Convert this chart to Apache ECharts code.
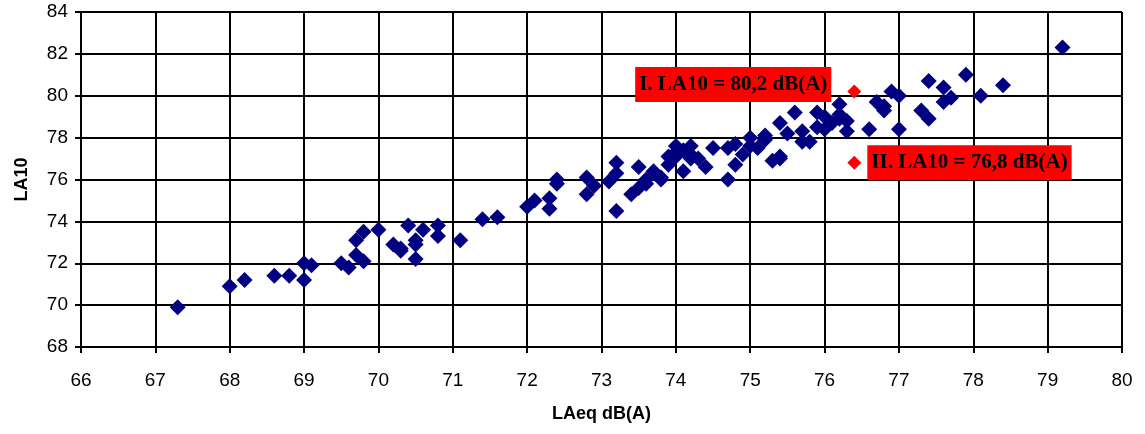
<!DOCTYPE html>
<html>
<head>
<meta charset="UTF-8">
<title>LA10 vs LAeq</title>
<script src="https://cdn.jsdelivr.net/npm/echarts@6.0.0/dist/echarts.min.js"></script>
<style>
  html, body { margin: 0; padding: 0; background: #fff; }
  #chart { width: 1145px; height: 434px; }
</style>
</head>
<body>
<div id="chart"></div>
<script>
  // measured points: LAeq (x), LA10 (y)
  const laeq = [
    67.3, 68.0, 68.2, 68.6, 68.8, 69.0, 69.1, 69.0, 69.5, 69.6,
    69.7, 69.8, 69.7, 69.8, 70.0, 70.2, 70.3, 70.3, 70.4, 70.5,
    70.6, 70.5, 70.5, 70.8, 70.8, 71.1, 71.4, 71.6, 72.0, 72.1,
    72.3, 72.3, 72.4, 72.4, 72.8, 72.8, 72.9, 73.1, 73.2, 73.2,
    73.2, 73.4, 73.5, 73.5, 73.6, 73.7, 73.8, 73.9, 73.9, 74.0,
    74.0, 74.1, 74.2, 74.2, 74.0, 74.2, 74.3, 74.4, 74.5, 74.7,
    74.7, 74.8, 74.8, 74.9, 75.0, 75.1, 75.2, 75.2, 75.3, 75.4,
    75.4, 75.5, 75.6, 75.7, 75.7, 75.8, 75.9, 75.9, 76.0, 76.0,
    76.1, 76.2, 76.2, 76.3, 76.3, 76.6, 76.7, 76.8, 76.8, 76.9,
    77.0, 77.0, 77.3, 77.4, 77.4, 77.6, 77.6, 77.7, 77.9, 78.1,
    78.4, 79.2, 73.6, 73.8, 74.1, 75.0, 75.4, 76.2
  ];
  const la10 = [
    69.9, 70.9, 71.2, 71.4, 71.4, 72.0, 71.9, 71.2, 72.0, 71.8,
    73.1, 73.5, 72.4, 72.1, 73.6, 72.9, 72.6, 72.7, 73.8, 73.1,
    73.6, 72.2, 72.9, 73.8, 73.3, 73.1, 74.1, 74.2, 74.7, 75.0,
    75.1, 74.6, 76.0, 75.8, 76.1, 75.3, 75.7, 75.9, 76.8, 76.3,
    74.5, 75.3, 76.6, 75.6, 75.8, 76.4, 76.0, 76.7, 77.1, 77.6,
    77.3, 76.4, 77.6, 77.0, 77.1, 77.2, 77.0, 76.6, 77.5, 76.0,
    77.5, 76.7, 77.7, 77.2, 78.0, 77.5, 77.9, 78.1, 76.9, 78.7,
    77.1, 78.2, 79.2, 78.3, 77.8, 77.8, 79.2, 78.5, 79.0, 78.4,
    78.7, 79.6, 79.1, 78.3, 78.8, 78.4, 79.7, 79.5, 79.3, 80.2,
    80.0, 78.4, 79.3, 80.7, 78.9, 80.4, 79.7, 79.9, 81.0, 80.0,
    80.5, 82.3, 76.0, 76.1, 77.4, 77.6, 77.0, 78.9
  ];
  // the two highlighted values
  const refX = [76.4, 76.4];
  const refY = [80.2, 76.8];
  const refLabels = ['I. LA10 = 80,2 dB(A)', 'II. LA10 = 76,8 dB(A)'];

  const xTicks = [66, 80, 1];
  const yTicks = [68, 84, 2];

  const points = laeq.map((x, i) => [x, la10[i]]);

  const labelBox = {
    show: true,
    formatter: p => p.name,
    color: '#000',
    fontFamily: '"Liberation Serif", "Times New Roman", serif',
    fontWeight: 'bold',
    fontSize: 21,
    backgroundColor: '#ff0000',
    padding: [7, 4, 7, 4]
  };

  const refData = [
    { name: refLabels[0], value: [refX[0], refY[0]],
      label: Object.assign({}, labelBox, { position: 'left', distance: 16, offset: [0, -7] }) },
    { name: refLabels[1], value: [refX[1], refY[1]],
      label: Object.assign({}, labelBox, { position: 'right', distance: 6 }) }
  ];

  const chart = echarts.init(document.getElementById('chart'));
  const axisFont = { fontFamily: '"Liberation Sans", Arial, sans-serif', fontSize: 19, color: '#000' };
  const lineBlack = { color: '#000', width: 2 };

  chart.setOption({
    animation: false,
    backgroundColor: '#fff',
    grid: { left: 81, right: 23, top: 12, bottom: 87 },
    xAxis: {
      type: 'value',
      min: xTicks[0], max: xTicks[1], interval: xTicks[2],
      name: 'LAeq dB(A)',
      nameLocation: 'middle',
      nameGap: 58,
      nameTextStyle: { fontFamily: '"Liberation Sans", Arial, sans-serif', fontSize: 18, fontWeight: 'bold', color: '#000' },
      axisLine: { show: true, onZero: false, lineStyle: { color: '#000', width: 2 } },
      axisTick: { show: true, inside: false, length: 6, lineStyle: lineBlack },
      axisLabel: Object.assign({ margin: 24 }, axisFont),
      splitLine: { show: true, lineStyle: lineBlack }
    },
    yAxis: {
      type: 'value',
      min: yTicks[0], max: yTicks[1], interval: yTicks[2],
      name: 'LA10',
      nameLocation: 'middle',
      nameRotate: 90,
      nameGap: 50,
      nameTextStyle: { fontFamily: '"Liberation Sans", Arial, sans-serif', fontSize: 18, fontWeight: 'bold', color: '#000' },
      axisLine: { show: true, onZero: false, lineStyle: { color: '#000', width: 2 } },
      axisTick: { show: true, inside: false, length: 6, lineStyle: lineBlack },
      axisLabel: Object.assign({ margin: 13 }, axisFont),
      splitLine: { show: true, lineStyle: lineBlack }
    },
    series: [
      {
        type: 'scatter',
        symbol: 'diamond',
        symbolSize: 16,
        itemStyle: { color: '#000080', opacity: 1 },
        data: points
      },
      {
        type: 'scatter',
        symbol: 'diamond',
        symbolSize: 14,
        itemStyle: { color: '#ff0000', opacity: 1 },
        data: refData,
        z: 5
      }
    ]
  });
</script>
</body>
</html>
